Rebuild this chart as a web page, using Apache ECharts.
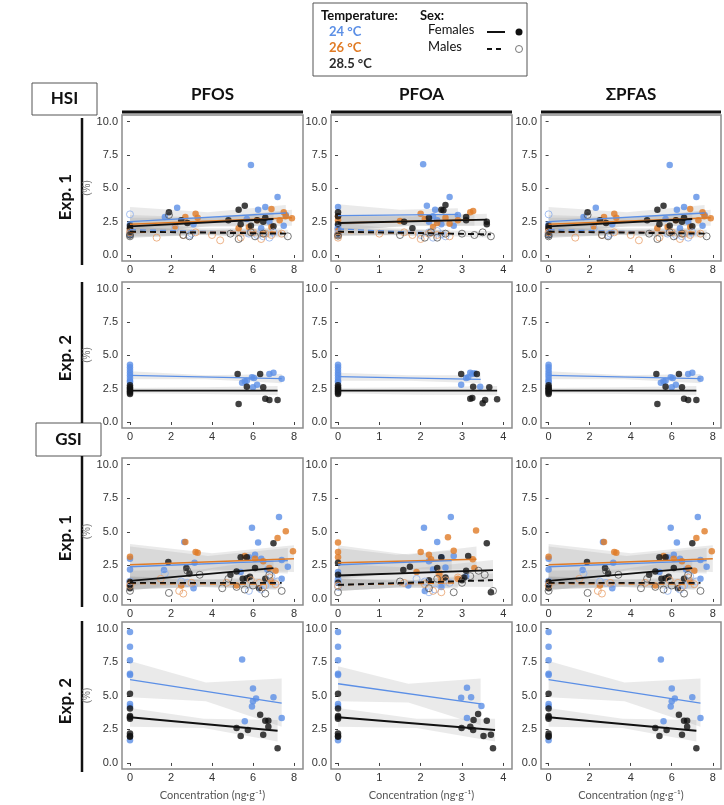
<!DOCTYPE html>
<html>
<head>
<meta charset="utf-8">
<script src="https://cdn.jsdelivr.net/npm/echarts@6/dist/echarts.min.js"></script>
<style>
  html, body { margin: 0; padding: 0; background: #fff; }
  #main { width: 724px; height: 805px; }
</style>
</head>
<body>
<div id="main"></div>
<script>
// colours for the three temperatures
var C24 = '#5b8fe6', C26 = '#e07b25', C28 = '#111111';

// ---------- HSI, Exp. 1 (PFOS; the ΣPFAS panel shows the same fish) ----------
var hsi1PfosF24 = [[0,2.1],[0,1.9],[0,2.3],[1.7,2.85],[2.3,3.55],[3.1,2.3],[5.9,6.75],[6.25,3.4],[6.6,3.6],[7.2,4.35],[7.5,2.2],[6.8,2.5],[7.6,3.0],[5.7,2.7],[6.4,2.0]];
var hsi1PfosF26 = [[0,1.8],[0,2.0],[2.7,2.85],[3.2,3.1],[3.3,2.8],[2.2,2.15],[6.9,3.45],[7.5,3.2],[7.9,2.75],[6.2,2.6],[5.8,2.1],[7.3,2.6],[6.9,2.1],[5.3,2.0],[7.6,2.9]];
var hsi1PfosF28 = [[0,2.2],[0,2.0],[0,1.5],[1.9,3.2],[2.8,2.4],[2.5,2.6],[5.3,3.4],[5.6,3.7],[5.4,2.3],[5.9,2.2],[6.2,2.6],[6.5,2.5],[7.0,2.15],[6.6,2.8],[4.8,2.6]];
var hsi1PfosM24 = [[0,3.05],[0,1.6],[2.2,2.0],[2.9,1.5],[5.8,1.6],[6.2,1.5],[6.8,1.3],[7.0,1.7],[3.0,1.6],[6.5,1.4]];
var hsi1PfosM26 = [[0,1.7],[1.3,1.3],[2.6,1.5],[3.2,1.7],[4.4,1.1],[5.4,1.3],[6.0,1.7],[6.4,1.2],[6.9,1.5],[7.4,1.6],[4.0,1.5],[6.6,1.6]];
var hsi1PfosM28 = [[0,1.5],[0,1.4],[1.9,3.0],[2.6,1.5],[2.9,1.4],[5.3,1.2],[5.9,1.7],[6.5,1.6],[7.7,1.4],[4.9,1.6],[6.1,1.4]];
var hsi1PfosFits = [
  { g: 'F24', from: [0, 2.5], to: [7.6, 3.15], band: [[0,1.9,3.6],[3.8,2.5,3.2],[7.6,2.6,3.75]] },
  { g: 'F26', from: [0, 2.3], to: [7.9, 2.8], band: [[0,1.6,3.0],[4,2.2,2.8],[7.9,2.2,3.4]] },
  { g: 'F28', from: [0, 2.15], to: [7.0, 2.7], band: [[0,1.5,2.8],[3.5,2.1,2.8],[7.0,2.2,3.2]] },
  { g: 'M24', from: [0, 1.9], to: [7.0, 1.65], band: [[0,1.3,2.5],[3.5,1.5,2.0],[7.0,1.3,2.0]] },
  { g: 'M26', from: [0, 1.7], to: [7.4, 1.7], band: [[0,1.3,2.1],[3.7,1.55,1.85],[7.4,1.4,2.0]] },
  { g: 'M28', from: [0, 1.75], to: [7.7, 1.6], band: [[0,1.4,2.1],[3.8,1.5,1.9],[7.7,1.3,1.9]] }
];

// ---------- HSI, Exp. 1, PFOA ----------
var hsi1PfoaF24 = [[0,3.6],[0,2.2],[0,2.0],[2.06,6.8],[2.15,3.7],[2.7,4.35],[2.35,3.4],[2.3,2.9],[2.5,2.3],[2.8,2.2],[2.4,2.6],[2.9,3.0],[2.2,2.5]];
var hsi1PfoaF26 = [[0,2.9],[0,2.6],[0,1.8],[2.0,3.1],[3.27,3.3],[3.2,3.2],[2.1,2.7],[2.4,2.4],[2.6,2.8],[2.3,2.1],[2.9,2.6],[1.5,2.55],[2.7,2.35]];
var hsi1PfoaF28 = [[0,3.2],[0,2.9],[0,2.3],[0,1.5],[1.8,2.0],[1.6,2.5],[2.6,3.75],[2.5,3.4],[2.55,3.35],[3.1,2.85],[3.1,2.6],[3.6,2.3],[3.6,2.5],[2.2,2.8]];
var hsi1PfoaM24 = [[0,1.95],[0,1.6],[2.2,1.7],[2.3,1.3],[2.5,1.55],[2.0,1.5],[2.6,1.4],[2.4,1.8]];
var hsi1PfoaM26 = [[0,1.5],[0,1.3],[1.6,1.7],[1.0,1.6],[2.0,1.2],[2.2,1.6],[2.4,1.5],[2.7,1.4],[1.8,1.5]];
var hsi1PfoaM28 = [[0,1.45],[1.5,1.5],[2.1,1.3],[2.25,1.7],[2.4,1.3],[3.0,1.6],[3.3,1.5],[3.5,1.7],[3.7,1.4],[2.6,1.6]];
var hsi1PfoaFits = [
  { g: 'F24', from: [0, 2.95], to: [2.9, 3.05], band: [[0,2.2,3.8],[1.5,2.5,3.4],[2.9,2.6,3.5]] },
  { g: 'F26', from: [0, 2.4], to: [3.3, 2.65], band: [[0,1.8,3.0],[1.8,2.2,2.9],[3.3,2.2,3.1]] },
  { g: 'F28', from: [0, 2.4], to: [3.6, 2.65], band: [[0,1.9,2.9],[1.8,2.2,2.9],[3.6,2.2,3.1]] },
  { g: 'M24', from: [0, 1.95], to: [2.6, 1.6], band: [[0,1.5,2.4],[1.3,1.5,2.0],[2.6,1.3,1.9]] },
  { g: 'M26', from: [0, 1.7], to: [2.7, 1.65], band: [[0,1.4,2.0],[1.4,1.5,1.85],[2.7,1.4,1.9]] },
  { g: 'M28', from: [0, 1.75], to: [3.7, 1.55], band: [[0,1.45,2.05],[1.9,1.5,1.85],[3.7,1.3,1.8]] }
];

// ---------- HSI, Exp. 2 (females only) ----------
var hsi2Ctrl24 = [[0,4.3],[0,4.1],[0,3.9],[0,3.7],[0,3.5],[0,3.3],[0,3.1],[0,3.0]];
var hsi2Ctrl28 = [[0,2.75],[0,2.6],[0,2.5],[0,2.4],[0,2.3],[0,2.2],[0,2.1]];
var hsi2PfosF24 = [[5.47,2.95],[5.6,3.05],[5.7,3.1],[5.95,3.35],[6.05,3.3],[6.2,2.8],[6.0,2.6],[6.8,3.6],[7.0,3.7],[7.4,3.25]];
var hsi2PfosF28 = [[5.25,3.6],[5.7,2.65],[5.3,1.35],[6.35,3.6],[6.5,2.6],[6.6,1.75],[6.8,1.65],[7.2,1.65]];
var hsi2PfosFits = [
  { g: 'F24', from: [0, 3.5], to: [7.4, 3.25], band: [[0,3.2,3.8],[3.7,3.2,3.5],[7.4,2.9,3.6]] },
  { g: 'F28', from: [0, 2.35], to: [7.2, 2.35], band: [[0,2.15,2.55],[3.6,2.1,2.6],[7.2,2.0,2.7]] }
];
var hsi2PfoaF24 = [[2.98,2.8],[3.1,3.3],[3.2,3.7],[3.25,3.6],[3.15,3.35],[3.44,2.65],[3.3,3.65]];
var hsi2PfoaF28 = [[2.98,3.6],[3.36,3.6],[3.27,2.65],[3.66,2.6],[3.2,1.75],[3.25,1.8],[3.5,1.4],[3.56,1.65],[3.85,1.7]];
var hsi2PfoaFits = [
  { g: 'F24', from: [0, 3.4], to: [3.45, 3.2], band: [[0,3.1,3.7],[1.7,3.1,3.5],[3.45,2.9,3.5]] },
  { g: 'F28', from: [0, 2.35], to: [3.85, 2.35], band: [[0,2.15,2.55],[1.9,2.05,2.6],[3.85,2.0,2.7]] }
];

// ---------- GSI, Exp. 1 ----------
var gsi1PfosF24 = [[0,3.0],[0,2.2],[1.66,2.15],[2.65,4.25],[3.15,2.7],[3.1,0.8],[5.95,5.3],[6.25,4.2],[7.27,6.1],[7.7,2.4],[5.8,3.1],[6.1,3.3],[6.4,3.0],[6.7,2.2],[5.4,2.0],[7.4,2.9],[7.4,1.5]];
var gsi1PfosF26 = [[0,3.15],[0,1.2],[2.7,4.25],[3.2,3.5],[3.3,3.45],[7.2,4.55],[7.6,5.05],[7.95,3.55],[5.6,3.2],[6.1,3.0],[6.5,2.8],[6.8,2.3],[7.1,2.1],[2.5,1.0],[5.2,1.0],[6.9,1.3]];
var gsi1PfosF28 = [[0,1.3],[0,1.0],[0,0.8],[1.87,2.75],[2.75,2.3],[2.9,1.9],[7.0,4.15],[5.4,3.1],[5.7,3.1],[5.2,2.05],[5.5,1.5],[5.7,1.55],[5.85,1.65],[6.1,2.3],[6.3,0.8],[6.6,1.5],[4.9,1.8]];
var gsi1PfosM24 = [[0,1.3],[1.7,1.9],[2.5,1.3],[2.8,1.2],[3.1,1.0],[5.8,0.6],[6.4,0.7],[6.6,1.0],[7.2,1.3],[6.9,1.7]];
var gsi1PfosM26 = [[0,1.0],[1.5,1.5],[2.4,0.6],[2.6,0.4],[3.0,1.2],[5.9,1.4],[6.3,1.2],[6.5,0.9],[6.8,1.6],[7.1,1.1],[4.7,1.2]];
var gsi1PfosM28 = [[0,0.6],[1.9,0.45],[2.8,2.1],[3.4,1.8],[4.5,0.8],[4.8,1.5],[5.2,0.9],[5.6,0.7],[6.0,1.0],[6.8,1.8],[7.4,0.6],[6.6,0.4]];
var gsi1PfosFits = [
  { g: 'F26', from: [0, 2.55], to: [8.0, 3.0], band: [[0,1.0,4.1],[4,2.2,3.4],[8.0,2.0,4.0]] },
  { g: 'F24', from: [0, 2.4], to: [7.7, 2.85], band: [[0,0.9,3.9],[3.8,2.1,3.2],[7.7,1.9,3.8]] },
  { g: 'F28', from: [0, 1.35], to: [7.0, 2.3], band: [[0,0.6,2.1],[3.5,1.4,2.2],[7.0,1.6,3.0]] },
  { g: 'M24', from: [0, 1.2], to: [7.2, 1.15], band: [[0,0.7,1.7],[3.6,0.9,1.45],[7.2,0.7,1.6]] },
  { g: 'M26', from: [0, 1.15], to: [7.1, 1.1], band: [[0,0.7,1.6],[3.5,0.9,1.4],[7.1,0.7,1.5]] },
  { g: 'M28', from: [0, 1.2], to: [7.4, 1.2], band: [[0,0.75,1.65],[3.7,0.95,1.45],[7.4,0.8,1.6]] }
];
var gsi1PfoaF24 = [[0,2.0],[0,1.5],[2.08,5.3],[2.4,4.25],[2.73,6.1],[2.8,3.2],[2.5,3.1],[2.3,2.2],[2.6,2.35],[1.7,1.0],[2.1,0.6],[2.5,0.9],[3.1,1.7],[2.2,2.8]];
var gsi1PfoaF26 = [[0,4.2],[0,3.5],[0,3.1],[2.0,3.5],[2.66,4.6],[3.34,5.1],[3.26,2.95],[2.8,3.6],[2.2,3.3],[2.25,2.95],[2.45,1.8],[2.5,1.4],[3.3,2.3],[2.9,1.5],[1.9,2.0]];
var gsi1PfoaF28 = [[0,2.7],[0,1.8],[0,1.2],[1.58,2.15],[1.74,2.4],[3.6,4.15],[3.15,3.2],[2.5,3.1],[2.4,2.3],[3.05,1.6],[3.0,1.4],[3.7,0.5],[2.6,1.6],[3.1,2.1],[2.2,1.4]];
var gsi1PfoaM24 = [[0,1.3],[0,0.9],[2.1,1.3],[2.2,0.5],[2.35,0.7],[2.5,1.0],[1.9,1.5],[2.7,1.2]];
var gsi1PfoaM26 = [[0,1.0],[1.6,1.2],[2.1,1.1],[2.3,0.6],[2.5,0.5],[2.9,1.6],[2.6,1.4],[2.45,1.9]];
var gsi1PfoaM28 = [[0,0.5],[1.5,1.3],[2.2,0.8],[2.4,1.5],[3.0,1.2],[3.2,1.7],[3.4,2.1],[3.55,1.8],[3.75,0.6],[2.8,0.5]];
var gsi1PfoaFits = [
  { g: 'F26', from: [0, 2.7], to: [3.35, 2.95], band: [[0,1.5,4.0],[1.7,2.2,3.3],[3.35,2.2,3.9]] },
  { g: 'F24', from: [0, 2.55], to: [2.75, 2.85], band: [[0,1.4,3.8],[1.4,2.0,3.3],[2.75,2.0,3.6]] },
  { g: 'F28', from: [0, 1.75], to: [3.75, 2.15], band: [[0,0.9,2.6],[1.9,1.5,2.3],[3.75,1.3,2.9]] },
  { g: 'M24', from: [0, 1.05], to: [2.7, 1.2], band: [[0,0.6,1.5],[1.4,0.85,1.35],[2.7,0.8,1.6]] },
  { g: 'M26', from: [0, 1.05], to: [2.9, 1.2], band: [[0,0.6,1.5],[1.5,0.85,1.35],[2.9,0.8,1.6]] },
  { g: 'M28', from: [0, 1.05], to: [3.75, 1.4], band: [[0,0.6,1.5],[1.9,0.95,1.45],[3.75,0.9,1.9]] }
];

// ---------- GSI, Exp. 2 (females only) ----------
var gsi2Ctrl24 = [[0,9.75],[0,8.65],[0,7.65],[0,6.65],[0,6.55],[0,4.4],[0,4.2],[0,1.7]];
var gsi2Ctrl28 = [[0,5.15],[0,4.05],[0,3.5],[0,3.4],[0,3.3],[0,2.2],[0,2.0],[0,1.95]];
var gsi2PfosF24 = [[5.47,7.7],[5.6,3.1],[6.0,5.55],[6.0,4.6],[5.95,4.2],[6.15,4.8],[7.0,4.9],[7.4,3.35]];
var gsi2PfosF28 = [[5.2,2.6],[5.4,2.0],[5.75,2.45],[6.35,3.6],[6.6,3.15],[6.75,3.15],[6.75,2.7],[6.5,2.1],[7.2,1.1]];
var gsi2PfosFits = [
  { g: 'F24', from: [0, 6.2], to: [7.4, 4.45], band: [[0,4.9,7.6],[3.7,4.6,6.0],[7.4,2.7,6.3]] },
  { g: 'F28', from: [0, 3.4], to: [7.2, 2.4], band: [[0,2.7,4.1],[3.6,2.6,3.3],[7.2,1.6,3.2]] }
];
var gsi2PfoaF24 = [[2.98,4.85],[3.12,5.6],[3.22,4.9],[3.12,3.35],[3.47,4.25]];
var gsi2PfoaF28 = [[2.99,2.6],[3.2,2.7],[3.27,2.45],[3.28,3.2],[3.39,3.65],[3.52,2.0],[3.6,3.15],[3.7,2.1],[3.75,1.1]];
var gsi2PfoaFits = [
  { g: 'F24', from: [0, 5.9], to: [3.45, 4.4], band: [[0,4.6,7.2],[1.7,4.5,5.9],[3.45,2.8,6.3]] },
  { g: 'F28', from: [0, 3.4], to: [3.8, 2.45], band: [[0,2.7,4.1],[1.9,2.6,3.3],[3.8,1.6,3.3]] }
];

// axis ticks
var xTicksWide = [0, 2, 4, 6, 8];
var xTicksPfoa = [0, 1, 2, 3, 4];
var yTicks = [0, 2.5, 5, 7.5, 10];

// panel layout (px) and axis extents
var cols = [
  { left: 122, width: 181, min: -0.39, max: 8.44, ticks: xTicksWide },
  { left: 331, width: 181, min: -0.17, max: 4.21, ticks: xTicksPfoa },
  { left: 541, width: 180, min: -0.37, max: 8.4, ticks: xTicksWide }
];
var rows = [
  { top: 115, height: 146 },
  { top: 282, height: 146 },
  { top: 458, height: 147 },
  { top: 622, height: 147 }
];

var hsi1Pfos = { pts: { F24: hsi1PfosF24, F26: hsi1PfosF26, F28: hsi1PfosF28, M24: hsi1PfosM24, M26: hsi1PfosM26, M28: hsi1PfosM28 }, fits: hsi1PfosFits };
var hsi1Pfoa = { pts: { F24: hsi1PfoaF24, F26: hsi1PfoaF26, F28: hsi1PfoaF28, M24: hsi1PfoaM24, M26: hsi1PfoaM26, M28: hsi1PfoaM28 }, fits: hsi1PfoaFits };
var hsi2Pfos = { pts: { F24: hsi2Ctrl24.concat(hsi2PfosF24), F28: hsi2Ctrl28.concat(hsi2PfosF28) }, fits: hsi2PfosFits };
var hsi2Pfoa = { pts: { F24: hsi2Ctrl24.concat(hsi2PfoaF24), F28: hsi2Ctrl28.concat(hsi2PfoaF28) }, fits: hsi2PfoaFits };
var gsi1Pfos = { pts: { F24: gsi1PfosF24, F26: gsi1PfosF26, F28: gsi1PfosF28, M24: gsi1PfosM24, M26: gsi1PfosM26, M28: gsi1PfosM28 }, fits: gsi1PfosFits };
var gsi1Pfoa = { pts: { F24: gsi1PfoaF24, F26: gsi1PfoaF26, F28: gsi1PfoaF28, M24: gsi1PfoaM24, M26: gsi1PfoaM26, M28: gsi1PfoaM28 }, fits: gsi1PfoaFits };
var gsi2Pfos = { pts: { F24: gsi2Ctrl24.concat(gsi2PfosF24), F28: gsi2Ctrl28.concat(gsi2PfosF28) }, fits: gsi2PfosFits };
var gsi2Pfoa = { pts: { F24: gsi2Ctrl24.concat(gsi2PfoaF24), F28: gsi2Ctrl28.concat(gsi2PfoaF28) }, fits: gsi2PfoaFits };

// rows x columns (PFOS, PFOA, ΣPFAS)
var layout = [
  [hsi1Pfos, hsi1Pfoa, hsi1Pfos],
  [hsi2Pfos, hsi2Pfoa, hsi2Pfos],
  [gsi1Pfos, gsi1Pfoa, gsi1Pfos],
  [gsi2Pfos, gsi2Pfoa, gsi2Pfos]
];

var tempColor = { '24': C24, '26': C26, '28': C28 };
var openColor = { '24': '#8fb0ee', '26': '#e9a06a', '28': '#555555' };
var fontTick = 'Liberation Sans, Arial, sans-serif';
var fontHead = 'Lato, "Open Sans", sans-serif';

function pointStyle(g) {
  var t = g.slice(1);
  if (g[0] === 'F') return { color: tempColor[t] };
  return { color: 'rgba(255,255,255,0)', borderColor: openColor[t], borderWidth: 1 };
}
function lineStyle(g) {
  var t = g.slice(1);
  var w = t === '24' ? 1.3 : (t === '26' ? 1.5 : 1.9);
  return { color: tempColor[t], width: w, type: g[0] === 'F' ? 'solid' : [6, 4] };
}

var grids = [], xAxes = [], yAxes = [], series = [];
var bandSeries = [], fitSeries = [];

layout.forEach(function (rowPanels, r) {
  rowPanels.forEach(function (panel, c) {
    var i = grids.length;
    var col = cols[c], row = rows[r];
    grids.push({
      left: col.left, top: row.top, width: col.width, height: row.height,
      show: true, borderColor: '#8c8c8c', borderWidth: 1.5, backgroundColor: '#fff'
    });
    xAxes.push({
      gridIndex: i, type: 'value', min: col.min, max: col.max,
      axisLine: { show: false },
      axisTick: { show: true, length: 3, customValues: col.ticks, lineStyle: { color: '#444' } },
      axisLabel: { customValues: col.ticks, margin: 3, color: '#333', fontSize: 11, fontFamily: fontTick },
      splitLine: { show: false },
      name: r === 3 ? 'Concentration (ng·g⁻¹)' : '',
      nameLocation: 'middle', nameGap: 21,
      nameTextStyle: { color: '#555', fontSize: 11, fontFamily: fontHead }
    });
    yAxes.push({
      gridIndex: i, type: 'value', min: -0.45, max: 10.5,
      axisLine: { show: false },
      axisTick: { show: true, length: 3, customValues: yTicks, lineStyle: { color: '#444' } },
      axisLabel: { customValues: yTicks, margin: 4, color: '#333', fontSize: 11, fontFamily: fontTick,
        formatter: function (v) { return v.toFixed(1); } },
      splitLine: { show: false },
      name: c === 0 ? '(%)' : '',
      nameLocation: 'middle', nameGap: 28, nameRotate: 90,
      nameTextStyle: { color: '#777', fontSize: 10, fontFamily: fontTick, padding: [0, 0, 0, 0] }
    });

    Object.keys(panel.pts).forEach(function (g) {
      series.push({
        type: 'scatter', xAxisIndex: i, yAxisIndex: i, data: panel.pts[g],
        symbol: 'circle', symbolSize: g[0] === 'F' ? 6.5 : 7,
        itemStyle: pointStyle(g), silent: true, clip: false
      });
    });

    panel.fits.forEach(function (f) {
      var band = f.band;
      bandSeries.push({
        type: 'custom', xAxisIndex: i, yAxisIndex: i, data: band,
        encode: { x: 0, y: [1, 2] }, silent: true,
        renderItem: function (params, api) {
          if (params.dataIndex !== 0) return;
          var up = [], dn = [];
          band.forEach(function (b) {
            up.push(api.coord([b[0], b[2]]));
            dn.unshift(api.coord([b[0], b[1]]));
          });
          return { type: 'polygon', shape: { points: up.concat(dn) },
            style: { fill: 'rgba(150,150,150,0.2)', stroke: null } };
        }
      });
      fitSeries.push({
        type: 'line', xAxisIndex: i, yAxisIndex: i, data: [f.from, f.to],
        showSymbol: false, silent: true, lineStyle: lineStyle(f.g), z: 4
      });
    });
  });
});

series = series.concat(bandSeries, fitSeries);

// decorations: legend box, column headers, row labels
var g = [];
function txt(x, y, s, opt) {
  opt = opt || {};
  g.push({
    type: 'text', x: x, y: y, rotation: opt.rot || 0,
    style: {
      text: s, fill: opt.color || '#111', font: (opt.weight || 'normal') + ' ' + (opt.size || 13) + 'px ' + fontHead,
      textAlign: opt.align || 'left', textVerticalAlign: 'middle'
    }
  });
}
g.push({ type: 'rect', shape: { x: 313, y: 3, width: 214, height: 73 }, style: { fill: '#fff', stroke: '#555', lineWidth: 1 } });
txt(321, 16, 'Temperature:', { weight: 'bold' });
txt(329, 32, '24 °C', { weight: 'bold', color: C24 });
txt(329, 48, '26 °C', { weight: 'bold', color: C26 });
txt(329, 64, '28.5 °C', { weight: 'bold', color: '#2b2b2b' });
txt(420, 16, 'Sex:', { weight: 'bold' });
txt(428, 30, 'Females', {});
txt(428, 47, 'Males', {});
g.push({ type: 'line', shape: { x1: 487, y1: 32, x2: 505, y2: 32 }, style: { stroke: '#111', lineWidth: 2 } });
g.push({ type: 'circle', shape: { cx: 519, cy: 32, r: 3.5 }, style: { fill: '#111' } });
g.push({ type: 'line', shape: { x1: 487, y1: 49, x2: 505, y2: 49 }, style: { stroke: '#111', lineWidth: 2, lineDash: [5, 4] } });
g.push({ type: 'circle', shape: { cx: 519, cy: 49, r: 3.5 }, style: { fill: '#fff', stroke: '#777', lineWidth: 1 } });

var heads = ['PFOS', 'PFOA', 'ΣPFAS'];
cols.forEach(function (col, c) {
  txt(col.left + col.width / 2, 95, heads[c], { weight: 'bold', size: 17, align: 'center' });
  g.push({ type: 'line', shape: { x1: col.left, y1: 112, x2: col.left + col.width, y2: 112 }, style: { stroke: '#111', lineWidth: 3 } });
});

g.push({ type: 'rect', shape: { x: 32, y: 83, width: 65, height: 32 }, style: { fill: '#fff', stroke: '#555', lineWidth: 1 } });
txt(64.5, 99, 'HSI', { weight: 'bold', size: 17, align: 'center' });
g.push({ type: 'rect', shape: { x: 36, y: 423, width: 65, height: 33 }, style: { fill: '#fff', stroke: '#555', lineWidth: 1 } });
txt(68.5, 440, 'GSI', { weight: 'bold', size: 17, align: 'center' });

var rowLabels = [
  { s: 'Exp. 1', y: 197, y1: 118, y2: 265 },
  { s: 'Exp. 2', y: 358, y1: 282, y2: 423 },
  { s: 'Exp. 1', y: 538, y1: 456, y2: 607 },
  { s: 'Exp. 2', y: 701, y1: 621, y2: 772 }
];
rowLabels.forEach(function (rl) {
  txt(66, rl.y, rl.s, { weight: 'bold', size: 17, align: 'center', rot: Math.PI / 2 });
  g.push({ type: 'line', shape: { x1: 82, y1: rl.y1, x2: 82, y2: rl.y2 }, style: { stroke: '#111', lineWidth: 2.5 } });
});

var myChart = echarts.init(document.getElementById('main'), null, { renderer: 'canvas' });
myChart.setOption({
  animation: false,
  backgroundColor: '#fff',
  grid: grids,
  xAxis: xAxes,
  yAxis: yAxes,
  series: series,
  graphic: g
});
</script>
</body>
</html>
